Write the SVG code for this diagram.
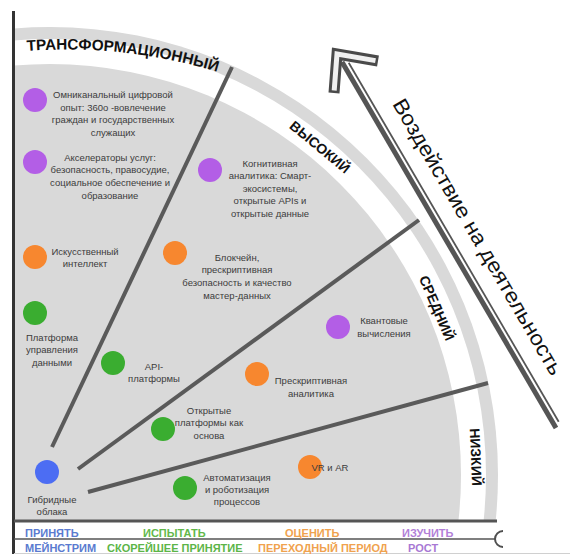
<svg xmlns="http://www.w3.org/2000/svg" width="570" height="554" viewBox="0 0 570 554">
<style>
.lbl{font-family:"Liberation Sans",Arial,sans-serif;font-size:9.5px;fill:#3c3c3c;text-anchor:middle}
.cat{font-family:"Liberation Sans",Arial,sans-serif;font-size:14px;font-weight:bold;fill:#111}
.leg{font-family:"Liberation Sans",Arial,sans-serif;font-size:11px;font-weight:bold}
.div{stroke:#5a5a5a;stroke-width:4}
.pu{fill:#b35ee6}.or{fill:#f7872f}.gr{fill:#3aad30}.bl{fill:#4c6df3}
.dk{stroke:#4f4f4f;fill:none}
</style>
<defs>
<clipPath id="q"><rect x="14" y="0" width="556" height="521"/></clipPath>
<path id="arcT" d="M 27 51 A 520 520 0 0 1 224 74"/>
</defs>
<rect width="570" height="554" fill="#fff"/>
<g id="rings" clip-path="url(#q)">
<circle cx="50" cy="475" r="448" fill="#d9d9d9"/>
<circle cx="50" cy="475" r="436" fill="#fff"/>
<circle cx="50" cy="475" r="411" fill="#d9d9d9"/>
</g>
<g id="frame">
<line x1="13.5" y1="11" x2="13.5" y2="554" stroke="#333" stroke-width="3"/>
<line x1="14" y1="521" x2="497" y2="521" stroke="#555" stroke-width="3"/>
<line x1="14" y1="539" x2="495" y2="539" stroke="#555" stroke-width="1.5"/>
<path d="M 503 531 A 8 8 0 0 0 503 547" class="dk" stroke-width="2"/>
<line x1="14" y1="553.5" x2="570" y2="553.5" stroke="#d0d0d0" stroke-width="1"/>
</g>
<g id="dividers">
<line class="div" x1="52" y1="447" x2="232" y2="67"/>
<line class="div" x1="78" y1="469" x2="419" y2="220"/>
<line class="div" x1="88" y1="492" x2="488" y2="383"/>
</g>
<g id="categories">
<text class="cat" style="font-size:15.3px"><textPath href="#arcT">ТРАНСФОРМАЦИОННЫЙ</textPath></text>
<text class="cat" text-anchor="middle" transform="translate(320,147) rotate(39.5)" y="5">ВЫСОКИЙ</text>
<text class="cat" text-anchor="middle" transform="translate(437,308) rotate(66.7)" y="5">СРЕДНИЙ</text>
<text class="cat" text-anchor="middle" transform="translate(476,457) rotate(87.6)" y="5">НИЗКИЙ</text>
</g>
<g id="impact-arrow">
<line x1="342" y1="62" x2="556" y2="428" stroke="#555" stroke-width="5"/>
<line x1="348.7" y1="62.7" x2="558.7" y2="421.7" stroke="#555" stroke-width="1.8"/>
<polyline points="334,93 337,54 378,61" fill="none" stroke="#4a4a4a" stroke-width="11" stroke-miterlimit="10"/>
<polyline points="334.2,90.5 337,54 375.5,60.6" fill="none" stroke="#f0f0f0" stroke-width="5" stroke-miterlimit="10"/>
<text font-family="'Liberation Sans',Arial,sans-serif" font-size="21" fill="#111" transform="translate(392,104) rotate(59.7)" textLength="316" lengthAdjust="spacingAndGlyphs">Воздействие на деятельность</text>
</g>
<g id="n-omni"><circle class="pu" cx="35" cy="100" r="12"/>
<text class="lbl" x="113" y="98"><tspan x="113">Омниканальный цифровой</tspan><tspan x="113" dy="12.7">опыт: 360о -вовлечение</tspan><tspan x="113" dy="12.7">граждан и государственных</tspan><tspan x="113" dy="12.7">служащих</tspan></text></g>
<g id="n-accel"><circle class="pu" cx="35" cy="162" r="12"/>
<text class="lbl" x="110" y="160.5"><tspan x="110">Акселераторы услуг:</tspan><tspan x="110" dy="12.7">безопасность, правосудие,</tspan><tspan x="110" dy="12.7">социальное обеспечение и</tspan><tspan x="110" dy="12.7">образование</tspan></text></g>
<g id="n-cogn"><circle class="pu" cx="210" cy="170" r="12"/>
<text class="lbl" x="270" y="166.5"><tspan x="270">Когнитивная</tspan><tspan x="270" dy="12.5">аналитика: Смарт-</tspan><tspan x="270" dy="12.5">экосистемы,</tspan><tspan x="270" dy="12.5">открытые APIs и</tspan><tspan x="270" dy="12.5">открытые данные</tspan></text></g>
<g id="n-ai"><circle class="or" cx="35" cy="257" r="12"/>
<text class="lbl" x="85" y="254.5"><tspan x="85">Искусственный</tspan><tspan x="85" dy="12.5">интеллект</tspan></text></g>
<g id="n-block"><circle class="or" cx="175" cy="253" r="12"/>
<text class="lbl" x="237" y="260.5"><tspan x="237">Блокчейн,</tspan><tspan x="237" dy="12.7">прескриптивная</tspan><tspan x="237" dy="12.7">безопасность и качество</tspan><tspan x="237" dy="12.7">мастер-данных</tspan></text></g>
<g id="n-data"><circle class="gr" cx="35" cy="313" r="12"/>
<text class="lbl" x="52" y="340.5"><tspan x="52">Платформа</tspan><tspan x="52" dy="12.7">управления</tspan><tspan x="52" dy="12.7">данными</tspan></text></g>
<g id="n-api"><circle class="gr" cx="113" cy="363" r="12"/>
<text class="lbl" x="154" y="369.5"><tspan x="154">API-</tspan><tspan x="154" dy="12.5">платформы</tspan></text></g>
<g id="n-quant"><circle class="pu" cx="338" cy="327" r="12"/>
<text class="lbl" x="384" y="323.5"><tspan x="384">Квантовые</tspan><tspan x="384" dy="13">вычисления</tspan></text></g>
<g id="n-presc"><circle class="or" cx="257" cy="374" r="12"/>
<text class="lbl" x="311" y="383.5"><tspan x="311">Прескриптивная</tspan><tspan x="311" dy="13">аналитика</tspan></text></g>
<g id="n-open"><circle class="gr" cx="163" cy="429" r="12"/>
<text class="lbl" x="209" y="413.5"><tspan x="209">Открытые</tspan><tspan x="209" dy="12.5">платформы как</tspan><tspan x="209" dy="12.5">основа</tspan></text></g>
<g id="n-hybrid"><circle class="bl" cx="47" cy="472" r="12"/>
<text class="lbl" x="52" y="502.5"><tspan x="52">Гибридные</tspan><tspan x="52" dy="12.5">облака</tspan></text></g>
<g id="n-auto"><circle class="gr" cx="185" cy="488" r="12"/>
<text class="lbl" x="237" y="480.5"><tspan x="237">Автоматизация</tspan><tspan x="237" dy="12.3">и роботизация</tspan><tspan x="237" dy="12.3">процессов</tspan></text></g>
<g id="n-vr"><circle class="or" cx="310" cy="467" r="12"/>
<text class="lbl" x="330" y="470.5" text-anchor="start">VR и AR</text></g>
<g id="legend">
<text class="leg" x="25" y="537" fill="#5a7bd0">ПРИНЯТЬ</text>
<text class="leg" x="143" y="537" fill="#62b84a">ИСПЫТАТЬ</text>
<text class="leg" x="285" y="537" fill="#f0a24e">ОЦЕНИТЬ</text>
<text class="leg" x="402" y="537" fill="#b27fd8">ИЗУЧИТЬ</text>
<text class="leg" x="25" y="552" fill="#5a7bd0">МЕЙНСТРИМ</text>
<text class="leg" x="107" y="552" fill="#5cb548">СКОРЕЙШЕЕ ПРИНЯТИЕ</text>
<text class="leg" x="258" y="552" fill="#f0a24e">ПЕРЕХОДНЫЙ ПЕРИОД</text>
<text class="leg" x="408" y="552" fill="#a878d4">РОСТ</text>
</g>
</svg>
